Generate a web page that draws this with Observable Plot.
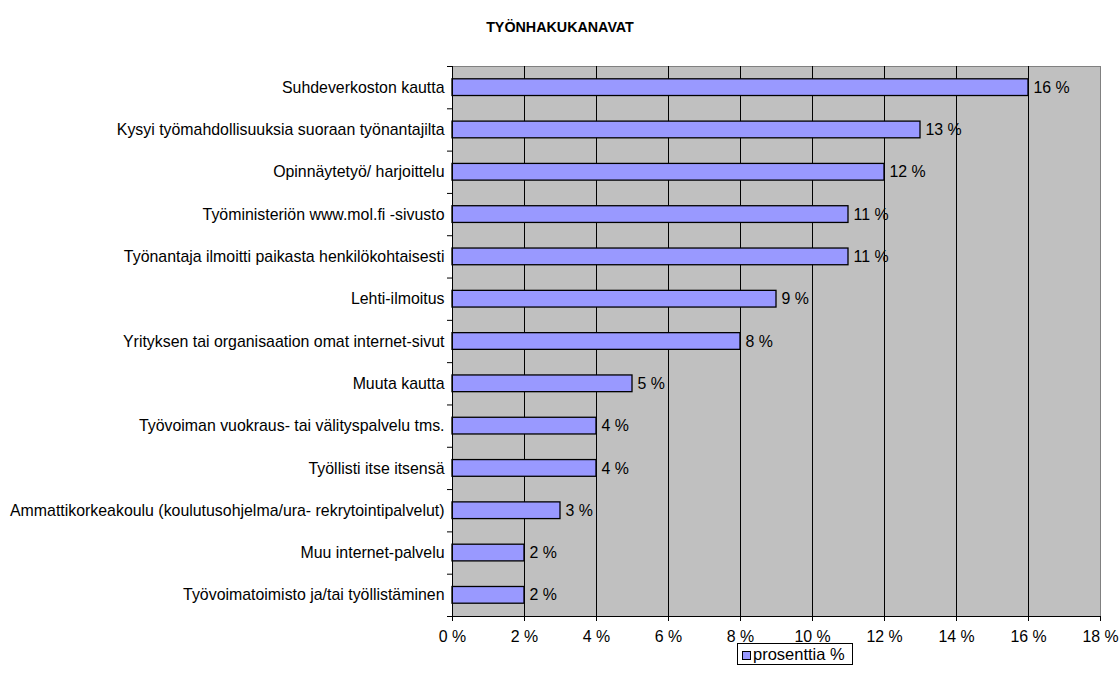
<!DOCTYPE html>
<html><head><meta charset="utf-8">
<script src="https://cdn.jsdelivr.net/npm/d3@7"></script>
<script src="https://cdn.jsdelivr.net/npm/@observablehq/plot@0.6"></script>
<style>
body{margin:0;background:#fff;font-family:"Liberation Sans",Arial,sans-serif;}
#wrap{position:relative;width:1120px;height:688px;}
#title{position:absolute;left:0;top:18px;width:1120px;text-align:center;font-weight:bold;font-size:14.3px;line-height:18px;}
#chart{position:absolute;left:0;top:0;}
#legend{position:absolute;left:737px;top:643px;width:116px;height:22px;border:1px solid #000;box-sizing:border-box;font-size:16.5px;line-height:20px;padding-left:4px;white-space:nowrap;}
#legend span.sw{display:inline-block;width:9px;height:9px;background:#9999ff;border:1px solid #000;margin-right:2px;vertical-align:0px;box-sizing:border-box;}
</style>
</head><body>
<div id="wrap">
<div id="chart"></div>
<div id="title">TYÖNHAKUKANAVAT</div>
<div id="legend"><span class="sw"></span>prosenttia %</div>
</div>
<script>
const categories = [
  "Suhdeverkoston kautta",
  "Kysyi työmahdollisuuksia suoraan työnantajilta",
  "Opinnäytetyö/ harjoittelu",
  "Työministeriön www.mol.fi -sivusto",
  "Työnantaja ilmoitti paikasta henkilökohtaisesti",
  "Lehti-ilmoitus",
  "Yrityksen tai organisaation omat internet-sivut",
  "Muuta kautta",
  "Työvoiman vuokraus- tai välityspalvelu tms.",
  "Työllisti itse itsensä",
  "Ammattikorkeakoulu (koulutusohjelma/ura- rekrytointipalvelut)",
  "Muu internet-palvelu",
  "Työvoimatoimisto ja/tai työllistäminen"
];
const values = [16, 13, 12, 11, 11, 9, 8, 5, 4, 4, 3, 2, 2];
const xTicks = [0, 2, 4, 6, 8, 10, 12, 14, 16, 18];
const seriesName = "prosenttia %";

const data = categories.map((c, i) => ({cat: c, value: values[i], i}));
const bounds = d3.range(0, categories.length + 1);

const chart = Plot.plot({
  width: 1120,
  height: 644,
  marginTop: 66,
  marginBottom: 28,
  marginLeft: 452,
  marginRight: 20,
  style: {fontFamily: '"Liberation Sans", Arial, sans-serif', fontSize: "15.9px", color: "#000", background: "transparent"},
  x: {domain: [0, 18], axis: null},
  y: {domain: [0, categories.length], reverse: true, axis: null},
  marks: [
    Plot.frame({fill: "#c0c0c0", stroke: "#808080"}),
    Plot.ruleX(xTicks.slice(1, -1), {stroke: "#000", strokeWidth: 1}),
    Plot.rect(data, {x1: 0, x2: "value", y1: "i", y2: d => d.i + 1, insetTop: 12.8, insetBottom: 12.8, fill: "#9999ff", stroke: "#000", strokeWidth: 1.3}),
    Plot.text(data, {x: "value", y: d => d.i + 0.5, text: d => d.value + " %", textAnchor: "start", dx: 5, fill: "#000"}),
    Plot.text(data, {x: 0, y: d => d.i + 0.5, text: "cat", textAnchor: "end", dx: -8, fill: "#000"}),
    Plot.axisY(bounds, {tickSize: 5, tickFormat: () => "", label: null, stroke: "#000"}),
    Plot.axisX(xTicks, {tickSize: 5, tickPadding: 9, tickFormat: d => d + " %", label: null, stroke: "#000"}),
    Plot.ruleX([0], {stroke: "#000"}),
    Plot.ruleY([categories.length], {stroke: "#000"})
  ]
});
document.getElementById("chart").appendChild(chart);
document.getElementById("legend").lastChild.textContent = seriesName;
</script>
</body></html>
